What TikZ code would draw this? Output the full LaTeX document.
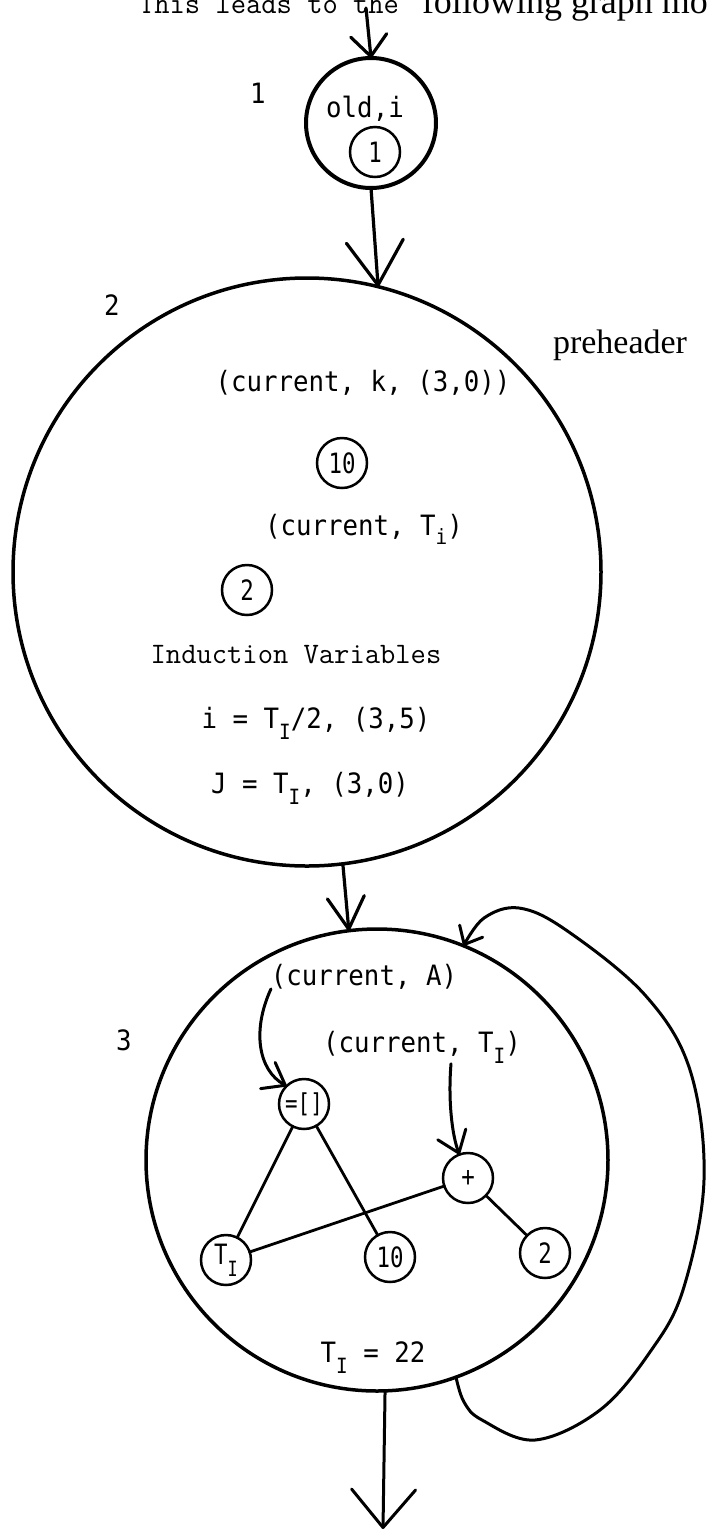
\documentclass[tikz,border=0pt]{standalone}
\usepackage{fontspec}
\newfontfamily\tw[FakeStretch=0.92]{DejaVu Sans Mono}
\newfontfamily\twn[FakeStretch=0.8]{DejaVu Sans Mono}
\newfontfamily\rmtimes{Liberation Serif}
\usetikzlibrary{arrows.meta}
\newcommand\subI{\raisebox{-0.42em}{\fontsize{21}{21}\selectfont I}}
\newcommand\subi{\raisebox{-0.33em}{\fontsize{21}{21}\selectfont i}}
\begin{document}
\begin{tikzpicture}[x=1pt,y=-1pt,
  every node/.style={inner sep=0pt, outer sep=0pt},
  txt/.style={anchor=base, font=\tw\fontsize{28}{32}\selectfont},
  bigc/.style={circle, draw, line width=3.5pt},
  smallc/.style={circle, draw, line width=2.5pt, minimum size=50pt, font=\twn\fontsize{28}{30}\selectfont},
  conn/.style={line width=3.2pt, line cap=round, line join=round},
  edge/.style={line width=2.8pt, line cap=round},
  tipTop/.style={-{Straight Barb[length=21pt,width=36pt,round]}},
  tipBig/.style={-{Straight Barb[length=44pt,width=57pt,round]}},
  tipMid/.style={-{Straight Barb[length=32pt,width=37pt,round]}},
  tipOut/.style={-{Straight Barb[length=38pt,width=64pt,round]}},
  tipLoop/.style={-{Straight Barb[length=15pt,width=26pt,round]}},
  tipIn/.style={-{Straight Barb[length=20pt,width=30pt,round]}}
]
\useasboundingbox (0,0) rectangle (708,1532);
\fill[white] (0,0) rectangle (708,1532);
\begin{scope}
\clip (0,0) rectangle (708,1532);
\node[anchor=base west, font=\ttfamily\fontsize{29.7}{32}\selectfont] (head1) at (139,13) {This leads to the};
\node[anchor=base west, font=\rmtimes\fontsize{36}{40}\selectfont] (head2) at (422,13) {following graph mo};
\end{scope}

% block 1
\node[bigc, line width=4pt, minimum size=130pt] (n1) at (371,123) {};
\node[txt] (l1) at (258,103) {1};
\node[txt] (oldi) at (365,117) {old,i};
\node[smallc] (c1) at (375,152) {1};
\coordinate (entry) at (366,8);
\draw[conn, tipTop] (entry) -- (n1.north);

% block 2
\node[bigc, minimum size=588pt] (n2) at (307,572) {};
\draw[conn, tipBig] (n1.south) -- (n2.76);
\node[txt] (l2) at (112,315) {2};
\node[anchor=base, font=\rmtimes\fontsize{34}{36}\selectfont] (pre) at (620,353) {preheader};
\node[txt] (ck) at (363,391) {(current, k, (3,0))};
\node[smallc] (c10) at (342,463) {10};
\node[txt] (cti) at (364,535) {(current, T\subi)};
\node[smallc] (c2) at (247,590) {2};
\node[anchor=base, font=\ttfamily\fontsize{29.7}{32}\selectfont] (iv) at (296,663) {Induction Variables};
\node[txt] (eqi) at (316,728) {i = T\subI/2, (3,5)};
\node[txt] (eqj) at (310,793) {J = T\subI, (3,0)};

% block 3
\node[bigc, minimum size=462pt] (n3) at (377,1160) {};
\draw[conn, tipMid] (n2.-83) -- (n3.97);
\node[txt] (l3) at (124,1050) {3};
\node[txt] (cA) at (364,985) {(current, A)};
\node[txt] (cT) at (422,1052) {(current, T\subI)};
\node[smallc, font=\twn\fontsize{26}{28}\selectfont] (eq) at (304,1104) {=[]};
\node[smallc] (plus) at (468,1178) {+};
\node[smallc] (TI) at (226,1260) {T\subI};
\node[smallc] (t10) at (390,1257) {10};
\node[smallc] (t2) at (545,1253) {2};
\node[txt] (tieq) at (373,1362) {T\subI{} = 22};

\draw[edge] (eq) -- (TI);
\draw[edge] (eq) -- (t10);
\draw[edge] (plus) -- (TI);
\draw[edge] (plus) -- (t2);

\draw[conn, line width=3pt, tipIn] (cA.south west) .. controls (252,1030) and (258,1070) .. (eq.134);
\draw[conn, line width=3pt, tipIn] ([xshift=29pt]cT.south) .. controls (448,1100) and (452,1135) .. (plus.110);

\draw[conn, line width=3pt, tipLoop] plot[smooth, tension=0.6] coordinates {(n3.-70) (464,1402) (482,1420) (535,1440) (600,1410) (650,1352) (683,1290) (704,1180) (690,1070) (645,995) (566,930) (519,908) (484,918) (n3.68)};

\coordinate (exit) at (383,1529);
\draw[conn, line width=3pt, tipOut] (n3.-88) -- (exit);
\end{tikzpicture}
\end{document}
